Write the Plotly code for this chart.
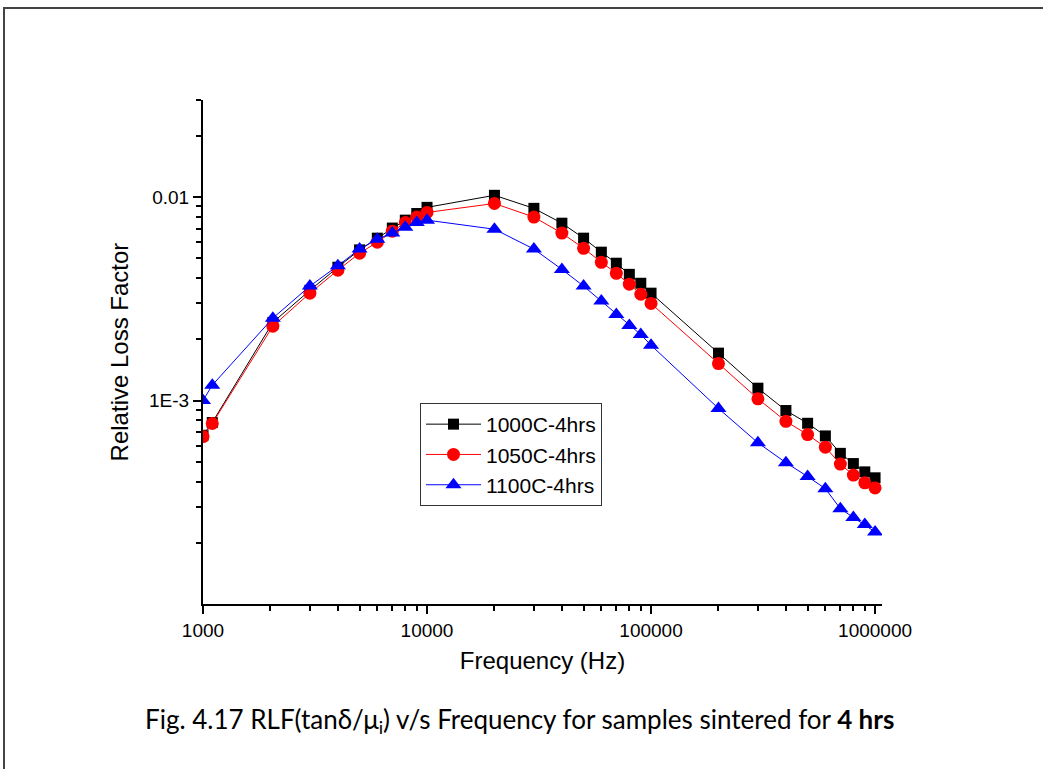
import plotly.graph_objects as go

freq = [1000, 1100, 2050, 3000, 4000, 5000, 6000, 7000, 8000, 9000, 10000,
        20000, 30000, 40000, 50000, 60000, 70000, 80000, 90000, 100000,
        200000, 300000, 400000, 500000, 600000, 700000, 800000, 900000, 1000000]

rlf_1000 = [6.75e-4, 7.8e-4, 2.42e-3, 3.48e-3, 4.52e-3, 5.5e-3, 6.28e-3, 7.04e-3, 7.7e-3, 8.3e-3, 8.9e-3,
            1.02e-2, 8.8e-3, 7.44e-3, 6.28e-3, 5.36e-3, 4.73e-3, 4.17e-3, 3.77e-3, 3.37e-3,
            1.71e-3, 1.15e-3, 8.93e-4, 7.73e-4, 6.7e-4, 5.5e-4, 4.9e-4, 4.46e-4, 4.17e-4]

rlf_1050 = [6.65e-4, 7.71e-4, 2.32e-3, 3.37e-3, 4.37e-3, 5.3e-3, 6.0e-3, 6.8e-3, 7.5e-3, 7.97e-3, 8.4e-3,
            9.3e-3, 7.97e-3, 6.65e-3, 5.6e-3, 4.78e-3, 4.22e-3, 3.73e-3, 3.33e-3, 3.0e-3,
            1.52e-3, 1.02e-3, 7.9e-4, 6.8e-4, 5.9e-4, 4.87e-4, 4.3e-4, 3.94e-4, 3.72e-4]

rlf_1100 = [1.0e-3, 1.19e-3, 2.54e-3, 3.65e-3, 4.6e-3, 5.55e-3, 6.2e-3, 6.66e-3, 7.1e-3, 7.5e-3, 7.7e-3,
            6.95e-3, 5.55e-3, 4.41e-3, 3.65e-3, 3.08e-3, 2.65e-3, 2.34e-3, 2.11e-3, 1.87e-3,
            9.14e-4, 6.2e-4, 4.95e-4, 4.23e-4, 3.69e-4, 2.94e-4, 2.66e-4, 2.46e-4, 2.26e-4]

series_names = ["1000C-4hrs", "1050C-4hrs", "1100C-4hrs"]
x_tick_vals = [1000, 10000, 100000, 1000000]
x_tick_text = ["1000", "10000", "100000", "1000000"]
y_tick_vals = [0.001, 0.01]
y_tick_text = ["1E-3", "0.01"]

x_minor = [m * 10 ** d for d in range(3, 6) for m in range(2, 10)]
y_minor = [m * 10 ** d for d in range(-4, -1) for m in range(2, 10) if m * 10 ** d <= 0.031]

styles = [
    dict(color="black", symbol="square", size=11),
    dict(color="red", symbol="circle", size=13),
    dict(color="blue", symbol="triangle-up", size=14),
]

fig = go.Figure()
for name, ys, st in zip(series_names, [rlf_1000, rlf_1050, rlf_1100], styles):
    fig.add_trace(go.Scatter(
        x=freq, y=ys, name=name, mode="lines+markers",
        line=dict(color=st["color"], width=1),
        marker=dict(color=st["color"], symbol=st["symbol"], size=st["size"], line=dict(width=0)),
    ))

ARIAL = "Liberation Sans, Arial, sans-serif"
axis_font = dict(family=ARIAL, size=19, color="black")
title_font = dict(family=ARIAL, size=24, color="black")

L, R, T, B = 203, 882, 100, 604
W, H = 1043, 769
pw, ph = R - L, B - T

def px_x(p):
    return (p - L) / pw

def px_y(p):
    return (B - p) / ph

fig.update_layout(
    width=W, height=H,
    margin=dict(l=L, r=W - R, t=T, b=H - B),
    paper_bgcolor="white", plot_bgcolor="white",
    showlegend=True,
    legend=dict(
        x=px_x(420), y=px_y(403), xanchor="left", yanchor="top",
        bordercolor="#333333", borderwidth=1, bgcolor="white",
        font=dict(family=ARIAL, size=21, color="black"),
        tracegroupgap=0, itemsizing="trace", itemwidth=55,
    ),
    xaxis=dict(
        type="log", range=[3, 6.031],
        tickmode="array", tickvals=x_tick_vals, ticktext=x_tick_text,
        ticks="outside", ticklen=8, tickwidth=2, tickcolor="black",
        showline=True, linewidth=2, linecolor="black", mirror=False,
        showgrid=False, zeroline=False, tickfont=axis_font,
        minor=dict(tickmode="array", tickvals=x_minor, ticks="outside", ticklen=5,
                   tickwidth=1.5, tickcolor="black", showgrid=False),
        title=dict(text="Frequency (Hz)", standoff=12, font=title_font),
    ),
    yaxis=dict(
        type="log", range=[-4, -1.523],
        tickmode="array", tickvals=y_tick_vals, ticktext=y_tick_text,
        ticks="outside", ticklen=8, tickwidth=2, tickcolor="black",
        showline=True, linewidth=2, linecolor="black", mirror=False,
        showgrid=False, zeroline=False, tickfont=axis_font,
        minor=dict(tickmode="array", tickvals=y_minor, ticks="outside", ticklen=5,
                   tickwidth=1.5, tickcolor="black", showgrid=False),
        title=dict(text="Relative Loss Factor", standoff=14, font=title_font),
    ),
    shapes=[dict(
        type="rect", xref="paper", yref="paper",
        x0=px_x(4), x1=px_x(1060), y0=px_y(790), y1=px_y(8),
        line=dict(color="#444444", width=2), fillcolor="rgba(0,0,0,0)", layer="below",
    )],
    annotations=[dict(
        text="Fig. 4.17 RLF(tanδ/μ<sub>i</sub>) v/s Frequency for samples sintered for <b>4 hrs</b>",
        xref="paper", yref="paper", x=px_x(519), y=px_y(720),
        xanchor="center", yanchor="middle", showarrow=False,
        font=dict(family="Lato, Carlito, Calibri, sans-serif", size=26, color="black"),
    )],
)

fig.write_html("out.html")
